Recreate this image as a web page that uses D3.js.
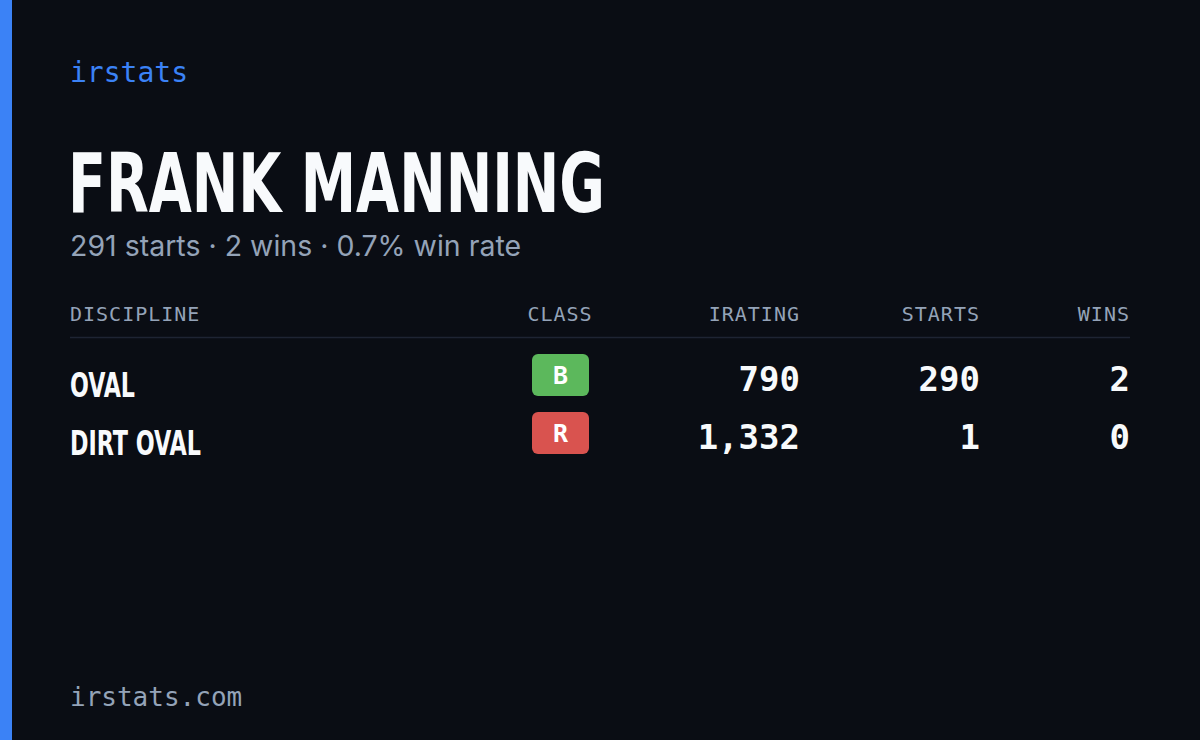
<!DOCTYPE html>
<html><head><meta charset="utf-8">
<script src="https://cdn.jsdelivr.net/npm/d3@7"></script>
<style>body{margin:0;background:#0a0d14;}</style></head>
<body><svg id="c" width="1200" height="740"></svg>
<script>
const brand = "irstats";
const driverName = "FRANK MANNING";
const summary = "291 starts · 2 wins · 0.7% win rate";
const headers = ["DISCIPLINE","CLASS","IRATING","STARTS","WINS"];
const disciplines = ["OVAL","DIRT OVAL"];
const classes = ["B","R"];
const classColors = ["#5cb85c","#d9534f"];
const iratings = [790, 1332];
const starts = [290, 1];
const wins = [2, 0];
const footer = "irstats.com";

const svg = d3.select("#c");
svg.append("rect").attr("width",1200).attr("height",740).attr("fill","#0a0d14");
svg.append("rect").attr("width",12).attr("height",740).attr("fill","#3b82f6");
const mono = "'DejaVu Sans Mono', monospace";
const cond = "'Liberation Sans Narrow','DejaVu Sans Condensed',sans-serif";
svg.append("text").attr("x",70).attr("y",82).text(brand).attr("font-family",mono).attr("font-weight",500).attr("font-size",28).attr("fill","#3b82f6");
svg.append("text").attr("x",68).attr("y",212).text(driverName).attr("font-family",cond).attr("font-weight",700).attr("font-size",82).attr("fill","#f8fafc").attr("textLength",537).attr("lengthAdjust","spacingAndGlyphs");
svg.append("text").attr("x",70).attr("y",256).text(summary).attr("font-family","Inter, sans-serif").attr("font-size",28.5).attr("fill","#94a3b8");

const colX = [70,560,800,980,1130];
const anchors = ["start","middle","end","end","end"];
svg.selectAll("text.h").data(headers).enter().append("text").attr("class","h")
  .attr("x",(d,i)=>colX[i]).attr("y",321).attr("text-anchor",(d,i)=>anchors[i])
  .attr("font-family",mono).attr("font-size",20).attr("letter-spacing",1).attr("fill","#94a3b8").text(d=>d);
svg.append("line").attr("x1",70).attr("x2",1130).attr("y1",337.5).attr("y2",337.5).attr("stroke","#1e2433").attr("stroke-width",1.5);

const labelW = [65,131];
const y = d3.scaleBand().domain(disciplines).range([350,466]);
const fmt = d3.format(",");
const rows = svg.selectAll("g.r").data(disciplines).enter().append("g").attr("transform",d=>`translate(0,${y(d)})`);
rows.append("text").attr("x",70).attr("y",47).text(d=>d).attr("font-family",cond).attr("font-weight",700).attr("font-size",34).attr("fill","#f8fafc").attr("textLength",(d,i)=>labelW[i]).attr("lengthAdjust","spacingAndGlyphs");
rows.append("rect").attr("x",532).attr("y",4).attr("width",57).attr("height",42).attr("rx",6).attr("fill",(d,i)=>classColors[i]);
rows.append("text").attr("x",560.5).attr("y",34).attr("text-anchor","middle").text((d,i)=>classes[i]).attr("font-family",mono).attr("font-weight",700).attr("font-size",25).attr("fill","#fff");
const num = (vals,x,f)=>rows.append("text").attr("x",x).attr("y",41).attr("text-anchor","end").text((d,i)=>f(vals[i])).attr("font-family",mono).attr("font-weight",700).attr("font-size",34).attr("fill","#f8fafc");
num(iratings,800,fmt); num(starts,980,String); num(wins,1130,String);

svg.append("text").attr("x",70).attr("y",706).text(footer).attr("font-family",mono).attr("font-size",26).attr("fill","#94a3b8");
</script></body></html>
